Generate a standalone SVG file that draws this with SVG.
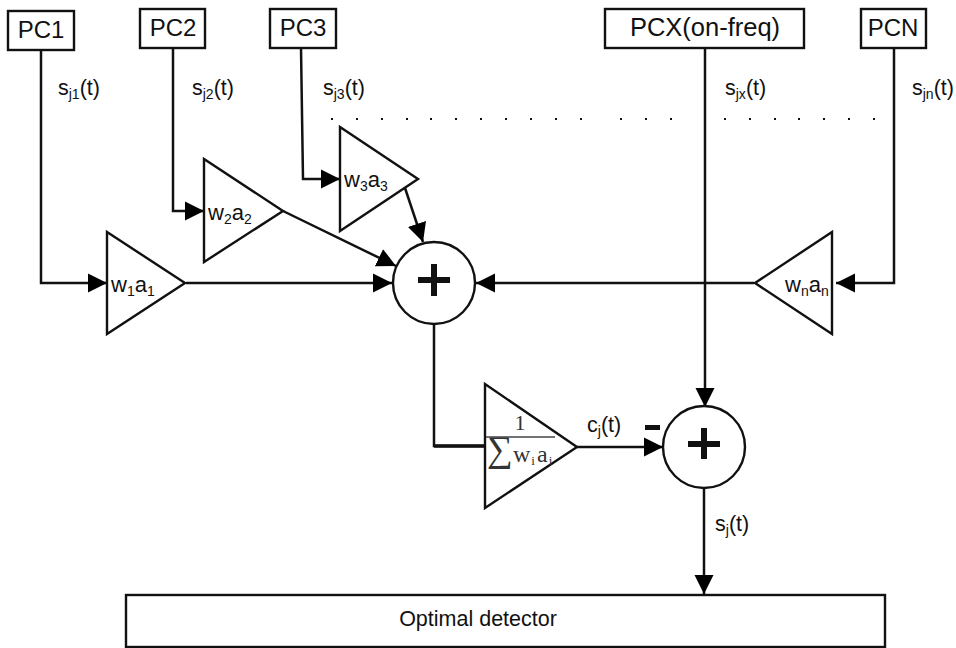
<svg xmlns="http://www.w3.org/2000/svg" width="956" height="648" viewBox="0 0 956 648">
<defs>
<marker id="ah" markerUnits="userSpaceOnUse" markerWidth="22" markerHeight="22" refX="19" refY="10" orient="auto"><path d="M0 0.5L19 10L0 19.5Z" fill="#000"/></marker>
</defs>
<style>
text{font-family:"Liberation Sans",Arial,sans-serif;fill:#111}
.b{fill:#fff;stroke:#111;stroke-width:2.4}
.n{font-size:24px;text-anchor:middle}
.l{font-size:21.5px}
.g{font-size:22px}
.sub{font-size:14px}
.c{fill:none;stroke:#111;stroke-width:2.5}
.a{marker-end:url(#ah)}
.dot{fill:#111}
.serif{font-family:"Liberation Serif",serif;fill:#333}
.plus{fill:#111}
</style>
<rect width="956" height="648" fill="#fff"/>
<g id="connectors">
<path class="c a" d="M41 50V283H107"/>
<path class="c a" d="M173 48V211H204"/>
<path class="c a" d="M301 48L303 179H340"/>
<path class="c a" d="M705 48V407"/>
<path class="c a" d="M894 48V283H836"/>
<path class="c a" d="M186 283H392"/>
<path class="c a" d="M283 211L396 266"/>
<path class="c a" d="M405 188L423 242"/>
<path class="c a" d="M754 283H476"/>
<path class="c" d="M434 323V446H484" />
<path d="M434 446H484" stroke="#111" stroke-width="3.5" fill="none"/>
<path class="c a" d="M577 447H663"/>
<path class="c a" d="M704 488V594"/>
</g>
<g id="pc1"><rect class="b" x="8" y="11" width="66" height="39"/><text class="n" x="41" y="38">PC1</text></g>
<g id="pc2"><rect class="b" x="140" y="9" width="65" height="39"/><text class="n" x="173" y="36">PC2</text></g>
<g id="pc3"><rect class="b" x="270" y="9" width="66" height="39"/><text class="n" x="303" y="36">PC3</text></g>
<g id="pcx"><rect class="b" x="605" y="9" width="199" height="39"/><text class="n" x="705" y="36" style="font-size:25.5px">PCX(on-freq)</text></g>
<g id="pcn"><rect class="b" x="861" y="9" width="65" height="39"/><text class="n" x="893" y="36">PCN</text></g>
<g id="amp1"><path class="b" d="M107 232V334L185 283Z"/><text class="g" x="111" y="292">w<tspan class="sub" dy="4">1</tspan><tspan dy="-4">a</tspan><tspan class="sub" dy="4">1</tspan></text></g>
<g id="amp2"><path class="b" d="M204 159V262L283 211Z"/><text class="g" x="208" y="220">w<tspan class="sub" dy="4">2</tspan><tspan dy="-4">a</tspan><tspan class="sub" dy="4">2</tspan></text></g>
<g id="amp3"><path class="b" d="M340 127V231L418 179Z"/><text class="g" x="344" y="187">w<tspan class="sub" dy="4">3</tspan><tspan dy="-4">a</tspan><tspan class="sub" dy="4">3</tspan></text></g>
<g id="ampn"><path class="b" d="M832 232V334L755 283Z"/><text class="g" x="785" y="292">w<tspan class="sub" dy="4">n</tspan><tspan dy="-4">a</tspan><tspan class="sub" dy="4">n</tspan></text></g>
<g id="norm"><path class="b" d="M485 384V508L577 447Z"/>
<path d="M486 437H555" stroke="#444" stroke-width="1.5"/>
<text class="serif" x="520" y="430" font-size="22" text-anchor="middle">1</text>
<text class="serif" x="487" y="461" font-size="36">∑</text>
<text class="serif" x="513" y="462" font-size="24">w<tspan font-size="13" dy="3" dx="1">i</tspan><tspan dy="-3" dx="2">a</tspan><tspan font-size="13" dy="3" dx="1">i</tspan></text>
</g>
<g id="sum1"><circle class="b" cx="434" cy="283" r="41"/><path class="plus" d="M418 277H431V264H437V277H450V283H437V296H431V283H418Z"/></g>
<g id="sum2"><circle class="b" cx="704" cy="447" r="41"/><path class="plus" d="M688 441H701V428H707V441H720V447H707V459H701V447H688Z"/></g>
<g id="det"><rect class="b" x="126" y="595" width="759" height="52"/><text x="478" y="626" font-size="21.5" text-anchor="middle">Optimal detector</text></g>
<g id="labels">
<text class="l" x="58" y="95">s<tspan class="sub" dy="4">j1</tspan><tspan dy="-4">(t)</tspan></text>
<text class="l" x="192" y="95">s<tspan class="sub" dy="4">j2</tspan><tspan dy="-4">(t)</tspan></text>
<text class="l" x="323" y="95">s<tspan class="sub" dy="4">j3</tspan><tspan dy="-4">(t)</tspan></text>
<text class="l" x="725" y="95">s<tspan class="sub" dy="4">jx</tspan><tspan dy="-4">(t)</tspan></text>
<text class="l" x="912" y="95">s<tspan class="sub" dy="4">jn</tspan><tspan dy="-4">(t)</tspan></text>
<text class="l" x="587" y="432">c<tspan class="sub" dy="4">j</tspan><tspan dy="-4">(t)</tspan></text>
<text class="l" x="715" y="531">s<tspan class="sub" dy="4">j</tspan><tspan dy="-4">(t)</tspan></text>
<rect x="645" y="425" width="15" height="5" fill="#111"/>
</g>
<g id="dots" class="dot">
<rect x="331" y="118" width="2" height="2"/><rect x="356" y="118" width="2" height="2"/><rect x="381" y="118" width="2" height="2"/><rect x="406" y="118" width="2" height="2"/><rect x="430" y="118" width="2" height="2"/><rect x="455" y="118" width="2" height="2"/><rect x="480" y="118" width="2" height="2"/><rect x="505" y="118" width="2" height="2"/><rect x="530" y="118" width="2" height="2"/><rect x="555" y="118" width="2" height="2"/><rect x="580" y="118" width="2" height="2"/><rect x="620" y="118" width="2" height="2"/><rect x="645" y="118" width="2" height="2"/><rect x="670" y="118" width="2" height="2"/><rect x="724" y="118" width="2" height="2"/><rect x="749" y="118" width="2" height="2"/><rect x="774" y="118" width="2" height="2"/><rect x="798" y="118" width="2" height="2"/><rect x="823" y="118" width="2" height="2"/><rect x="848" y="118" width="2" height="2"/><rect x="873" y="118" width="2" height="2"/>
</g>
</svg>
